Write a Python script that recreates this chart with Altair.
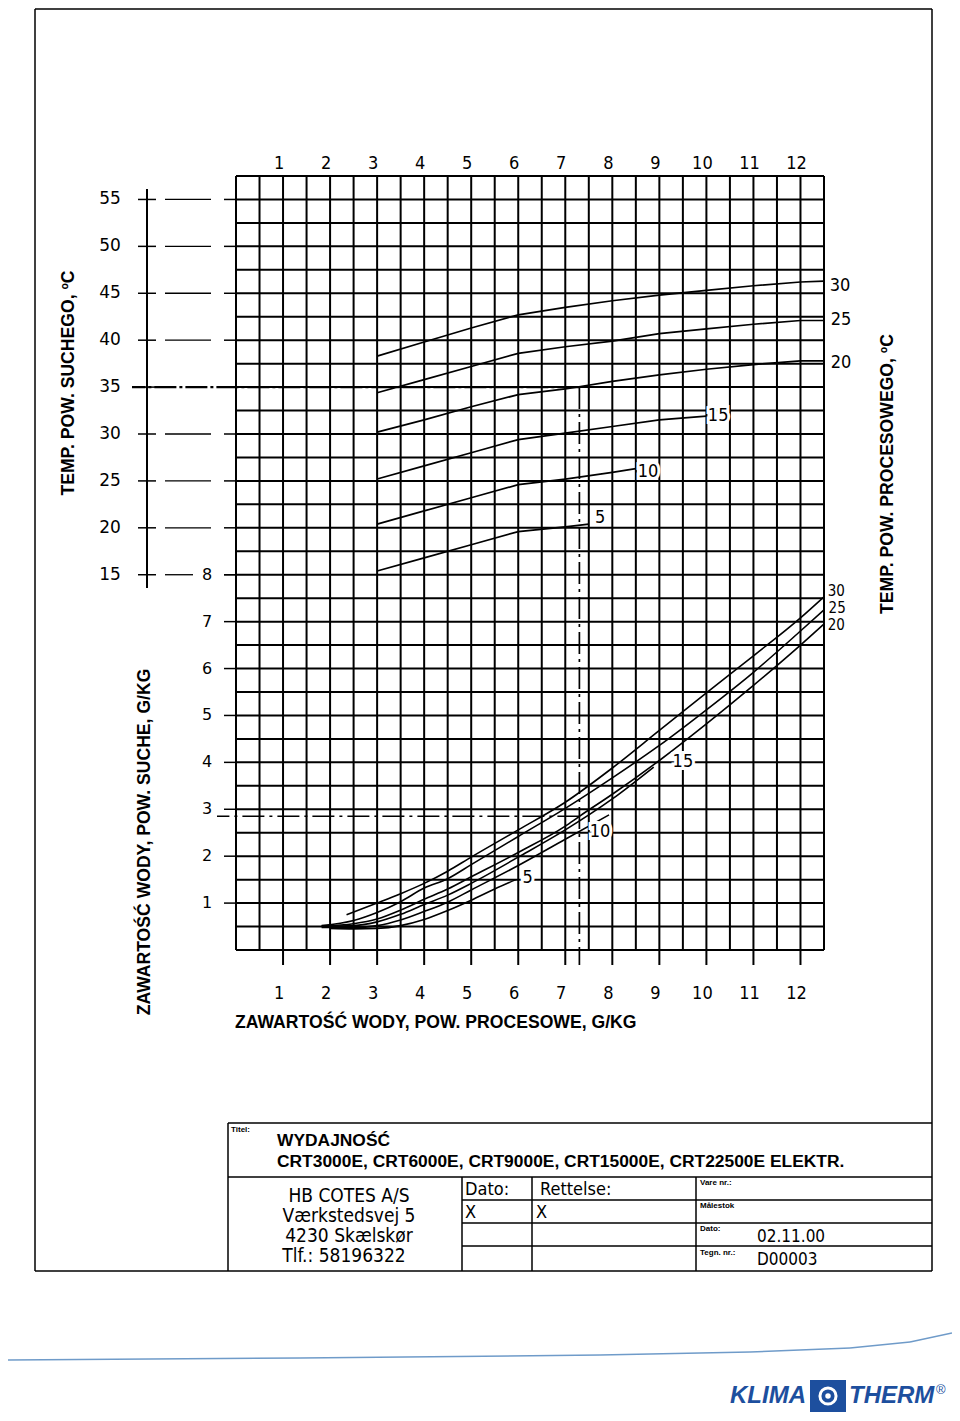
import altair as alt
import pandas as pd

# ---------------- data ----------------
x_ticks = [1, 2, 3, 4, 5, 6, 7, 8, 9, 10, 11, 12]
temp_ticks = [15, 20, 25, 30, 35, 40, 45, 50, 55]
water_ticks = [1, 2, 3, 4, 5, 6, 7, 8]

# upper family: dry-air temperature (degC) vs process-air water content (g/kg)
up30_x = [3, 4, 5, 6, 7, 8, 9, 10, 11, 12, 12.5]
up30_T = [38.3, 39.8, 41.3, 42.7, 43.5, 44.2, 44.8, 45.3, 45.8, 46.2, 46.3]
up25_x = [3, 4, 5, 6, 7, 8, 9, 10, 11, 12, 12.5]
up25_T = [34.4, 35.8, 37.2, 38.6, 39.3, 39.9, 40.7, 41.2, 41.7, 42.1, 42.1]
up20_x = [3, 4, 5, 6, 7, 8, 9, 10, 11, 12, 12.5]
up20_T = [30.2, 31.5, 32.9, 34.2, 34.8, 35.6, 36.3, 36.9, 37.4, 37.8, 37.8]
up15_x = [3, 4, 5, 6, 7, 8, 9, 10]
up15_T = [25.2, 26.6, 28.0, 29.4, 30.1, 30.8, 31.5, 31.9]
up10_x = [3, 4, 5, 6, 7, 8, 8.5]
up10_T = [20.4, 21.8, 23.2, 24.6, 25.2, 25.9, 26.3]
up5_x = [3, 4, 5, 6, 7, 7.5]
up5_T = [15.4, 16.8, 18.2, 19.6, 20.1, 20.4]

# lower family: dry-air water content (g/kg) vs process-air water content (g/kg)
lo30_x = [2.35, 3, 3.5, 4, 4.5, 5, 6, 7, 8, 9, 10, 11, 12, 12.5]
lo30_w = [0.75, 1.0, 1.2, 1.42, 1.68, 1.98, 2.56, 3.15, 3.88, 4.68, 5.48, 6.27, 7.08, 7.53]
lo25_x = [1.82, 2.5, 3, 3.5, 4, 4.5, 5, 6, 7, 8, 9, 10, 11, 12, 12.5]
lo25_w = [0.52, 0.63, 0.8, 1.03, 1.32, 1.52, 1.82, 2.42, 3.02, 3.67, 4.36, 5.12, 5.92, 6.8, 7.25]
lo20_x = [1.82, 2.5, 3, 3.5, 4, 4.5, 5, 6, 7, 7.3, 8, 9, 10, 11, 12, 12.5]
lo20_w = [0.51, 0.56, 0.66, 0.85, 1.08, 1.3, 1.56, 2.08, 2.64, 2.85, 3.32, 4.04, 4.82, 5.64, 6.5, 6.95]
lo15_x = [1.82, 2.5, 3, 3.5, 4, 4.5, 5, 6, 7, 8, 8.88]
lo15_w = [0.5, 0.52, 0.6, 0.76, 0.97, 1.17, 1.42, 1.98, 2.56, 3.22, 3.9]
lo10_x = [1.82, 2.5, 3, 3.5, 4, 4.5, 5, 6, 7, 7.93]
lo10_w = [0.48, 0.48, 0.52, 0.64, 0.82, 1.02, 1.28, 1.8, 2.36, 2.88]
lo5_x = [2.0, 2.5, 3, 3.5, 4, 4.5, 5, 5.5, 5.95]
lo5_w = [0.46, 0.45, 0.46, 0.52, 0.65, 0.84, 1.06, 1.3, 1.5]

# curve labels
up_lab_text = ["30", "25", "20", "15", "10", "5"]
up_lab_x = [12.84, 12.86, 12.86, 10.25, 8.76, 7.74]
up_lab_T = [45.8, 42.1, 37.6, 31.9, 26.0, 21.0]
lo_lab_text = ["30", "25", "20", "15", "10", "5"]
lo_lab_x = [12.76, 12.78, 12.76, 9.5, 7.74, 6.2]
lo_lab_w = [7.66, 7.3, 6.93, 4.0, 2.52, 1.53]

# worked example (dash-dot path)
ex_x = [7.3]
ex_T = [35]
ex_w = [2.85]

# ---------------- layout ----------------
W, H = 588, 774
X0, Y0 = 236, 176            # page position of the plot origin
CAD = "Liberation Sans Narrow, DejaVu Sans Condensed, DejaVu Sans, sans-serif"
ARIAL = "Liberation Sans, Arial, sans-serif"
ROUND = "DejaVu Sans, sans-serif"
BLUE = "#1d4f9e"

xs = alt.Scale(domain=[0, 12.5], nice=False, zero=False)
ws = alt.Scale(domain=[0, 16.5], nice=False, zero=False)


def X(f):
    return alt.X(f, type="quantitative", scale=xs, axis=None)


def Y(f):
    return alt.Y(f, type="quantitative", scale=ws, axis=None)


one = pd.DataFrame({"a": [0]})
T2W = "8 + (datum.T - 15) / 5"


def rule_px(x1, y1, x2, y2, color="black", sw=1.5, dash=None):
    kw = dict(color=color, strokeWidth=sw)
    if dash:
        kw["strokeDash"] = dash
    return alt.Chart(one).mark_rule(**kw).encode(
        x=alt.value(x1 - X0), x2=alt.value(x2 - X0),
        y=alt.value(y1 - Y0), y2=alt.value(y2 - Y0))


def text_px(s, x, y, size, font=CAD, weight="normal", align="left",
            angle=0, color="black", style="normal"):
    return alt.Chart(one).mark_text(
        text=s, fontSize=size, font=font, fontWeight=weight, align=align,
        baseline="middle", angle=angle, color=color, fontStyle=style
    ).encode(x=alt.value(x - X0), y=alt.value(y - Y0))


layers = []

# ---- grid ----
gx = pd.DataFrame({"gx": [i / 2 for i in range(26)]})
gy = pd.DataFrame({"gy": [i / 2 for i in range(34)]})
layers.append(alt.Chart(gx).mark_rule(color="black", strokeWidth=2).encode(
    x=X("gx"), y=alt.value(0), y2=alt.value(H)))
layers.append(alt.Chart(gy).mark_rule(color="black", strokeWidth=2).encode(
    y=Y("gy"), x=alt.value(0), x2=alt.value(W)))

# ---- x axis ticks and labels ----
xt = pd.DataFrame({"t": x_ticks, "lab": [str(v) for v in x_ticks]})
layers.append(alt.Chart(xt).mark_rule(color="black", strokeWidth=2).encode(
    x=X("t"), y=alt.value(H), y2=alt.value(H + 15)))
layers.append(alt.Chart(xt).mark_text(font=CAD, fontSize=18, dx=-4, baseline="middle").encode(
    x=X("t"), y=alt.value(-12), text="lab:N"))
layers.append(alt.Chart(xt).mark_text(font=CAD, fontSize=18, dx=-4, baseline="middle").encode(
    x=X("t"), y=alt.value(818), text="lab:N"))

# ---- left: temperature scale ----
tdf = pd.DataFrame({"T": temp_ticks, "lab": [str(v) for v in temp_ticks]})
tbase = alt.Chart(tdf).transform_calculate(w=T2W)
layers.append(rule_px(147, 189, 147, 588, sw=2))
layers.append(tbase.mark_rule(color="black", strokeWidth=1.5).encode(
    y=Y("w"), x=alt.value(138 - X0), x2=alt.value(156 - X0)))
layers.append(tbase.transform_filter("datum.T >= 20 && datum.T != 35").mark_rule(
    color="black", strokeWidth=1.3).encode(
    y=Y("w"), x=alt.value(165 - X0), x2=alt.value(211 - X0)))
layers.append(tbase.transform_filter("datum.T == 15").mark_rule(
    color="black", strokeWidth=1.3).encode(
    y=Y("w"), x=alt.value(165 - X0), x2=alt.value(193 - X0)))
layers.append(tbase.mark_rule(color="black", strokeWidth=1.5).encode(
    y=Y("w"), x=alt.value(224 - X0), x2=alt.value(0)))
layers.append(tbase.mark_text(font=ROUND, fontSize=17, align="center", baseline="middle").encode(
    y=Y("w"), x=alt.value(110 - X0), text="lab:N"))

# ---- left: water content scale ----
wdf = pd.DataFrame({"w": water_ticks, "lab": [str(v) for v in water_ticks]})
layers.append(alt.Chart(wdf).mark_rule(color="black", strokeWidth=1.5).encode(
    y=Y("w"), x=alt.value(224 - X0), x2=alt.value(0)))
layers.append(alt.Chart(wdf).mark_text(font=ROUND, fontSize=16, align="center", baseline="middle").encode(
    y=Y("w"), x=alt.value(207 - X0), text="lab:N"))

# ---- worked example (dash-dot) ----
exdf = pd.DataFrame({"x": ex_x, "T": ex_T, "w": ex_w})
exb = alt.Chart(exdf).transform_calculate(wT=T2W)
layers.append(exb.mark_rule(color="black", strokeWidth=2.2, strokeDash=[22, 3, 3, 3]).encode(
    x=X("x"), x2=alt.value(132 - X0), y=Y("wT")))
layers.append(exb.mark_rule(color="black", strokeWidth=1.7, strokeDash=[22, 5, 3, 5]).encode(
    x=X("x"), y=Y("wT"), y2=alt.value(H + 15)))
layers.append(exb.mark_rule(color="black", strokeWidth=1.5, strokeDash=[22, 5, 3, 5]).encode(
    x=X("x"), x2=alt.value(217 - X0), y=Y("w")))

# ---- curves ----
def frame(xv, yv, name, col):
    return pd.DataFrame({"x": xv, col: yv, "c": name})


up_df = pd.concat([
    frame(up30_x, up30_T, "30", "T"), frame(up25_x, up25_T, "25", "T"),
    frame(up20_x, up20_T, "20", "T"), frame(up15_x, up15_T, "15", "T"),
    frame(up10_x, up10_T, "10", "T"), frame(up5_x, up5_T, "5", "T")])
lo_df = pd.concat([
    frame(lo30_x, lo30_w, "30", "w"), frame(lo25_x, lo25_w, "25", "w"),
    frame(lo20_x, lo20_w, "20", "w"), frame(lo15_x, lo15_w, "15", "w"),
    frame(lo10_x, lo10_w, "10", "w"), frame(lo5_x, lo5_w, "5", "w")])

layers.append(alt.Chart(up_df).transform_calculate(w=T2W).mark_line(
    color="black", strokeWidth=1.7).encode(x=X("x"), y=Y("w"), detail="c:N"))
layers.append(alt.Chart(lo_df).mark_line(
    color="black", strokeWidth=1.6, interpolate="monotone").encode(
    x=X("x"), y=Y("w"), detail="c:N"))

# ---- curve labels (white halo knocks out the grid) ----
upl = pd.DataFrame({"x": up_lab_x, "T": up_lab_T, "lab": up_lab_text})
lol = pd.DataFrame({"x": lo_lab_x, "w": lo_lab_w, "lab": lo_lab_text})
for halo in (True, False):
    kw = dict(font=CAD, fontSize=18, align="center", baseline="middle")
    if halo:
        kw.update(stroke="white", strokeWidth=6)
    layers.append(alt.Chart(upl).transform_calculate(w=T2W).mark_text(**kw).encode(
        x=X("x"), y=Y("w"), text="lab:N"))
    layers.append(alt.Chart(lol).transform_filter("datum.x < 12.5").mark_text(**kw).encode(
        x=X("x"), y=Y("w"), text="lab:N"))
layers.append(alt.Chart(lol).transform_filter("datum.x >= 12.5").mark_text(
    font=CAD, fontSize=15, align="center", baseline="middle").encode(
    x=X("x"), y=Y("w"), text="lab:N"))

# ---- axis titles ----
layers.append(text_px("TEMP. POW. SUCHEGO, ºC", 69, 383, 17.6, font=ARIAL, weight="bold",
                      align="center", angle=270))
layers.append(text_px("ZAWARTOŚĆ WODY, POW. SUCHE, G/KG", 145, 842, 17.6, font=ARIAL, weight="bold",
                      align="center", angle=270))
layers.append(text_px("TEMP. POW. PROCESOWEGO, ºC", 888, 474, 17.6, font=ARIAL, weight="bold",
                      align="center", angle=270))
layers.append(text_px("ZAWARTOŚĆ WODY, POW. PROCESOWE, G/KG", 235, 1023, 17.6, font=ARIAL,
                      weight="bold"))

# ---- drawing frame ----
layers.append(rule_px(35, 9, 932, 9))
layers.append(rule_px(35, 9, 35, 1271))
layers.append(rule_px(932, 9, 932, 1271))
layers.append(rule_px(35, 1271, 932, 1271))

# ---- title block ----
layers.append(rule_px(228, 1123, 932, 1123))
layers.append(rule_px(228, 1123, 228, 1271))
layers.append(rule_px(228, 1177, 932, 1177))
for vx in (462, 532, 696):
    layers.append(rule_px(vx, 1177, vx, 1271))
for hy in (1200, 1223, 1246):
    layers.append(rule_px(462, hy, 932, hy))

layers.append(text_px("Titel:", 231, 1130, 8, font=ARIAL, weight="bold"))
layers.append(text_px("WYDAJNOŚĆ", 277, 1141, 17.4, font=ARIAL, weight="bold"))
layers.append(text_px("CRT3000E, CRT6000E, CRT9000E, CRT15000E, CRT22500E ELEKTR.",
                      277, 1162, 17.4, font=ARIAL, weight="bold"))
layers.append(text_px("HB COTES A/S", 349, 1196, 19, align="center"))
layers.append(text_px("Værkstedsvej 5", 349, 1216, 19, align="center"))
layers.append(text_px("4230   Skælskør", 349, 1236, 19, align="center"))
layers.append(text_px("Tlf.: 58196322", 344, 1256, 19, align="center"))
layers.append(text_px("Dato:", 465, 1190, 18))
layers.append(text_px("Rettelse:", 540, 1190, 18))
layers.append(text_px("X", 465, 1213, 18))
layers.append(text_px("X", 536, 1213, 18))
layers.append(text_px("Vare nr.:", 700, 1183, 8, font=ARIAL, weight="bold"))
layers.append(text_px("Målestok", 700, 1206, 8, font=ARIAL, weight="bold"))
layers.append(text_px("Dato:", 700, 1229, 8, font=ARIAL, weight="bold"))
layers.append(text_px("02.11.00", 757, 1237, 17))
layers.append(text_px("Tegn. nr.:", 700, 1253, 8, font=ARIAL, weight="bold"))
layers.append(text_px("D00003", 757, 1260, 17))

# ---- footer line and logo ----
pts = [(8, 1360), (300, 1358), (600, 1355), (750, 1352), (850, 1348), (910, 1342), (952, 1333)]
for (a, b), (c, d) in zip(pts[:-1], pts[1:]):
    layers.append(rule_px(a, b, c, d, color="#6f9bc9", sw=1.5))
layers.append(text_px("KLIMA", 806, 1396, 24, font=ARIAL, weight="bold", align="right",
                      color=BLUE, style="italic"))
layers.append(text_px("THERM", 849, 1396, 24, font=ARIAL, weight="bold", color=BLUE,
                      style="italic"))
layers.append(text_px("®", 936, 1390, 13, font=ARIAL, color=BLUE))
layers.append(alt.Chart(one).mark_rect(color=BLUE).encode(
    x=alt.value(810 - X0), x2=alt.value(846 - X0), y=alt.value(1380 - Y0), y2=alt.value(1412 - Y0)))
layers.append(alt.Chart(one).mark_point(shape="circle", filled=False, color="white",
                                        strokeWidth=3, size=260, opacity=1).encode(
    x=alt.value(828 - X0), y=alt.value(1396 - Y0)))
layers.append(alt.Chart(one).mark_point(shape="circle", filled=True, color="white",
                                        size=30, opacity=1).encode(
    x=alt.value(828 - X0), y=alt.value(1396 - Y0)))

chart = alt.layer(*layers).properties(
    width=W, height=H,
    padding={"left": X0 - 8, "top": Y0 - 8, "right": 128, "bottom": 463},
    autosize=alt.AutoSizeParams(type="none"),
    background="white",
).configure_view(stroke=None)

chart.save("out.html", embed_options={"renderer": "svg", "actions": False})
